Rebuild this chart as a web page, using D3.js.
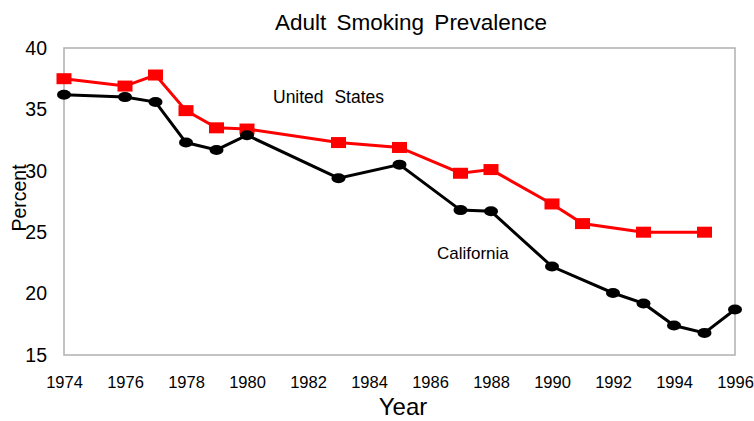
<!DOCTYPE html>
<html><head><meta charset="utf-8">
<script src="https://cdn.jsdelivr.net/npm/d3@7"></script>
<style>body{margin:0;background:#fff}text{font-family:"Liberation Sans",Arial,sans-serif;fill:#000}</style>
</head><body>
<svg id="c" width="754" height="421"></svg>
<script>
const usYears = [1974,1976,1977,1978,1979,1980,1983,1985,1987,1988,1990,1991,1993,1995];
const usValues = [37.5,36.9,37.8,34.9,33.5,33.4,32.3,31.9,29.8,30.1,27.3,25.7,25.0,25.0];
const caYears = [1974,1976,1977,1978,1979,1980,1983,1985,1987,1988,1990,1992,1993,1994,1995,1996];
const caValues = [36.2,36.0,35.6,32.3,31.7,32.9,29.4,30.5,26.8,26.7,22.2,20.05,19.2,17.4,16.8,18.7];
const xTicks = [1974,1976,1978,1980,1982,1984,1986,1988,1990,1992,1994,1996];
const yTicks = [15,20,25,30,35,40];

const svg = d3.select("#c");
const L = 64, R = 735, T = 48, B = 355;
const x = d3.scaleLinear().domain([1974,1996]).range([L,R]);
const y = d3.scaleLinear().domain([15,40]).range([B,T]);

svg.append("rect").attr("x",L).attr("y",T).attr("width",R-L).attr("height",B-T)
  .attr("fill","none").attr("stroke","#b0b0b0").attr("stroke-width",1.5);

const xAxis = svg.append("g").attr("transform",`translate(0,${B})`)
  .call(d3.axisBottom(x).tickValues(xTicks).tickFormat(d3.format("d")).tickSize(0).tickPadding(21));
xAxis.select(".domain").remove();
xAxis.selectAll("text").style("font-size","16.5px").attr("fill","#000");

const yAxis = svg.append("g").attr("transform",`translate(${L},0)`)
  .call(d3.axisLeft(y).tickValues(yTicks).tickSize(0).tickPadding(17));
yAxis.select(".domain").remove();
yAxis.selectAll("text").style("font-size","19.5px").attr("fill","#000");

const us = usYears.map((d,i)=>({x:d,y:usValues[i]}));
const ca = caYears.map((d,i)=>({x:d,y:caValues[i]}));
const line = d3.line().x(d=>x(d.x)).y(d=>y(d.y));

svg.append("path").datum(us).attr("d",line).attr("fill","none").attr("stroke","#ff0000").attr("stroke-width",3);
svg.selectAll(".us").data(us).join("rect").attr("class","us")
  .attr("x",d=>x(d.x)-7.5).attr("y",d=>y(d.y)-5.5).attr("width",15).attr("height",11).attr("fill","#ff0000");

svg.append("path").datum(ca).attr("d",line).attr("fill","none").attr("stroke","#000").attr("stroke-width",3);
svg.selectAll(".ca").data(ca).join("ellipse").attr("class","ca")
  .attr("cx",d=>x(d.x)).attr("cy",d=>y(d.y)).attr("rx",7).attr("ry",5).attr("fill","#000");

svg.append("text").attr("x",411).attr("y",30).attr("text-anchor","middle")
  .style("font-size","22.5px").style("word-spacing","4px").text("Adult Smoking Prevalence");
svg.append("text").attr("x",273).attr("y",103).style("font-size","17.5px").style("word-spacing","6px").text("United States");
svg.append("text").attr("x",437).attr("y",259).style("font-size","17px").text("California");
svg.append("text").attr("x",403).attr("y",415).attr("text-anchor","middle").style("font-size","24px").text("Year");
svg.append("text").attr("transform","translate(26,198) rotate(-90)").attr("text-anchor","middle")
  .style("font-size","19.5px").text("Percent");
</script>
</body></html>
